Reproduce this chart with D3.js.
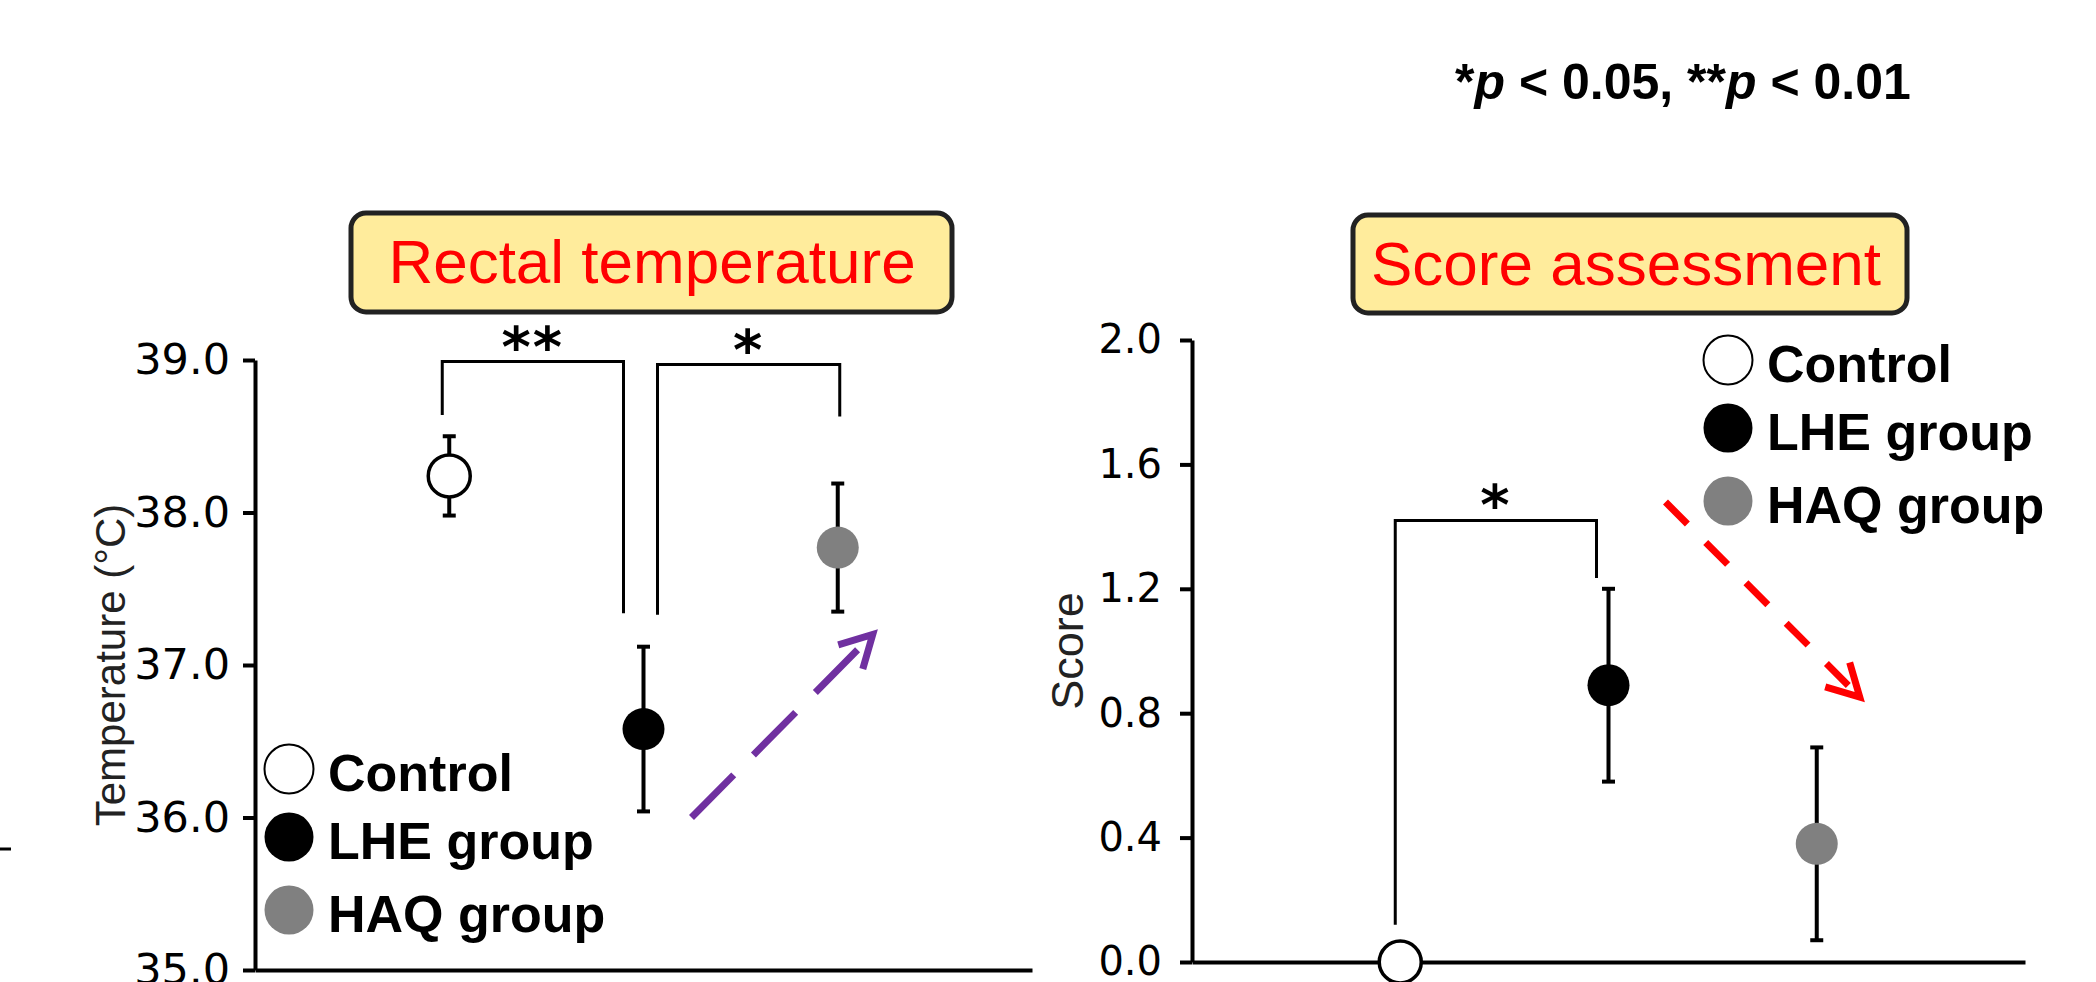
<!DOCTYPE html>
<html>
<head>
<meta charset="utf-8">
<script src="https://cdn.jsdelivr.net/npm/d3@7"></script>
<style>
  body { margin: 0; background: #fff; }
  svg { display: block; }
</style>
</head>
<body>
<div id="chart"></div>
<script>
// data
const groups = ["Control", "LHE group", "HAQ group"];
const groupFill = ["#ffffff", "#000000", "#808080"];

const tempMean = [38.24, 36.58, 37.77];
const tempSem = [0.26, 0.54, 0.42];
const tempTicks = [35, 36, 37, 38, 39];

const scoreMean = [0.0, 0.89, 0.38];
const scoreSem = [0.0, 0.31, 0.31];
const scoreTicks = [0, 0.4, 0.8, 1.2, 1.6, 2.0];

// significance brackets: [from, to, top, left end, right end, label]
const tempBrackets = [
  ["Control", "LHE group", 38.99, 38.64, 37.34, "**"],
  ["LHE group", "HAQ group", 38.97, 37.33, 38.63, "*"]
];
const scoreBrackets = [
  ["Control", "LHE group", 1.42, 0.12, 1.235, "*"]
];

const width = 2096
const height = 982

const svg = d3.select("#chart")
  .append("svg")
    .attr("width", width)
    .attr("height", height)

svg.append("rect").attr("width", width).attr("height", height).attr("fill", "#fff")

// small stray dash at the left edge of the figure
svg.append("line")
  .attr("x1", 0).attr("x2", 11).attr("y1", 849).attr("y2", 849)
  .attr("stroke", "#000").attr("stroke-width", 3)

// p-value note
const note = svg.append("text")
  .attr("x", 1455).attr("y", 99)
  .attr("font-family", "Liberation Sans, Arial, sans-serif")
  .attr("font-size", 50)
  .attr("font-weight", "bold")
  .attr("fill", "#000")
note.append("tspan").text("*")
note.append("tspan").attr("font-style", "italic").text("p")
note.append("tspan").text(" < 0.05, **")
note.append("tspan").attr("font-style", "italic").text("p")
note.append("tspan").text(" < 0.01")

function drawPanel(o) {
  const g = svg.append("g")

  const x = d3.scalePoint().domain(groups).range([o.left, o.right]).padding(1)
  const y = d3.scaleLinear().domain(o.domain).range([o.bottom, o.top])

  // title box
  g.append("rect")
    .attr("x", o.box[0]).attr("y", o.box[1])
    .attr("width", o.box[2]).attr("height", o.box[3])
    .attr("rx", 15)
    .attr("fill", "#ffec9c")
    .attr("stroke", "#222")
    .attr("stroke-width", 5)
  g.append("text")
    .attr("x", o.titleX).attr("y", o.box[1] + 70)
    .attr("text-anchor", "middle")
    .attr("font-family", "Liberation Sans, Arial, sans-serif")
    .attr("font-size", 62)
    .attr("fill", "#ff0000")
    .text(o.title)

  // y axis
  const yAxis = g.append("g")
    .attr("transform", `translate(${o.left},0)`)
    .call(d3.axisLeft(y).tickValues(o.ticks).tickFormat(d3.format(".1f"))
      .tickSize(12).tickSizeOuter(0).tickPadding(o.tickPad))
  yAxis.attr("font-family", "DejaVu Sans, Verdana, sans-serif")
    .attr("font-size", o.tickFont)
  yAxis.selectAll("path, line").attr("stroke", "#000").attr("stroke-width", 4)
  yAxis.selectAll("text").attr("fill", "#000")

  // x axis (line only)
  const xAxis = g.append("g")
    .attr("transform", `translate(0,${o.bottom})`)
    .call(d3.axisBottom(x).tickValues([]).tickSizeOuter(0))
  xAxis.select(".domain").attr("stroke", "#000").attr("stroke-width", 4)

  // y label
  g.append("text")
    .attr("transform", `translate(${o.labelX},${(o.top + o.bottom) / 2}) rotate(-90)`)
    .attr("text-anchor", "middle")
    .attr("font-family", "Liberation Sans, Arial, sans-serif")
    .attr("font-size", o.labelFont)
    .attr("fill", "#222")
    .text(o.label)

  // significance brackets
  o.brackets.forEach((b, i) => {
    const x1 = x(b[0]) + o.inset[i][0]
    const x2 = x(b[1]) + o.inset[i][1]
    g.append("path")
      .attr("d", `M${x1},${y(b[3])}V${y(b[2])}H${x2}V${y(b[4])}`)
      .attr("fill", "none")
      .attr("stroke", "#000")
      .attr("stroke-width", 3)
    g.append("text")
      .attr("x", (x1 + x2) / 2).attr("y", y(b[2]) + 4)
      .attr("text-anchor", "middle")
      .attr("font-family", "DejaVu Sans, sans-serif")
      .attr("font-size", 56)
      .attr("font-weight", "bold")
      .attr("letter-spacing", 2)
      .attr("fill", "#000")
      .text(b[5])
  })

  // error bars
  const pts = groups.map((k, i) => ({ k: k, m: o.mean[i], s: o.sem[i], fill: groupFill[i] }))
  const eb = g.append("g").selectAll("g")
    .data(pts.filter(d => d.s > 0))
    .join("g")
  eb.append("line")
    .attr("x1", d => x(d.k)).attr("x2", d => x(d.k))
    .attr("y1", d => y(d.m + d.s)).attr("y2", d => y(d.m - d.s))
    .attr("stroke", "#000").attr("stroke-width", 4)
  ;[1, -1].forEach(sg => {
    eb.append("line")
      .attr("x1", d => x(d.k) - 6.5).attr("x2", d => x(d.k) + 6.5)
      .attr("y1", d => y(d.m + sg * d.s)).attr("y2", d => y(d.m + sg * d.s))
      .attr("stroke", "#000").attr("stroke-width", 4)
  })

  // markers
  g.append("g").selectAll("circle")
    .data(pts)
    .join("circle")
      .attr("cx", d => x(d.k))
      .attr("cy", d => y(d.m))
      .attr("r", 21)
      .attr("fill", d => d.fill)
      .attr("stroke", d => d.fill == "#ffffff" ? "#000" : "none")
      .attr("stroke-width", 3.5)

  // legend
  const offs = [0, 68, 141]
  const lg = g.append("g").selectAll("g")
    .data(groups)
    .join("g")
    .attr("transform", (d, i) => `translate(${o.legend[0]},${o.legend[1] + offs[i]})`)
  lg.append("circle")
    .attr("r", 24.5)
    .attr("fill", (d, i) => groupFill[i])
    .attr("stroke", (d, i) => i == 0 ? "#000" : "none")
    .attr("stroke-width", 2)
  lg.append("text")
    .attr("x", 39).attr("y", 22)
    .attr("font-family", "Liberation Sans, Arial, sans-serif")
    .attr("font-size", 52)
    .attr("font-weight", "bold")
    .attr("fill", "#000")
    .text(d => d)

  // trend arrow
  const a = o.arrow
  const x1 = x(a[0]) + a[1], y1 = y(a[2])
  const x2 = x(a[3]) + a[4], y2 = y(a[5])
  g.append("line")
    .attr("x1", x1).attr("y1", y1).attr("x2", x2).attr("y2", y2)
    .attr("stroke", o.arrowColor).attr("stroke-width", 7)
    .attr("stroke-dasharray", o.arrowDash)
  const ang = Math.atan2(y1 - y2, x1 - x2)
  const wing = 36, spread = 0.5
  const w1 = [x2 + wing * Math.cos(ang + spread), y2 + wing * Math.sin(ang + spread)]
  const w2 = [x2 + wing * Math.cos(ang - spread), y2 + wing * Math.sin(ang - spread)]
  g.append("path")
    .attr("d", `M${w1[0]},${w1[1]}L${x2},${y2}L${w2[0]},${w2[1]}`)
    .attr("fill", "none")
    .attr("stroke", o.arrowColor).attr("stroke-width", 7)
    .attr("stroke-linejoin", "miter")
}

drawPanel({
  left: 255, right: 1032, top: 360, bottom: 970,
  domain: [35, 39], ticks: tempTicks, tickFont: 43, tickPad: 13,
  mean: tempMean, sem: tempSem,
  brackets: tempBrackets, inset: [[-7, -20], [14, 2]],
  box: [351, 213, 601, 99], titleX: 652, title: "Rectal temperature",
  label: "Temperature (°C)", labelX: 125, labelFont: 42,
  legend: [289, 769],
  arrow: ["LHE group", 48, 36.0, "HAQ group", 35, 37.2],
  arrowColor: "#7030a0", arrowDash: "60,28"
})

drawPanel({
  left: 1192, right: 2025, top: 340, bottom: 962,
  domain: [0, 2], ticks: scoreTicks, tickFont: 40, tickPad: 18,
  mean: scoreMean, sem: scoreSem,
  brackets: scoreBrackets, inset: [[-5, -12]],
  box: [1353, 215, 554, 98], titleX: 1626, title: "Score assessment",
  label: "Score", labelX: 1083, labelFont: 45,
  legend: [1728, 360],
  arrow: ["LHE group", 57, 1.479, "HAQ group", 43, 0.852],
  arrowColor: "#ff0000", arrowDash: "31,26"
})
</script>
</body>
</html>
